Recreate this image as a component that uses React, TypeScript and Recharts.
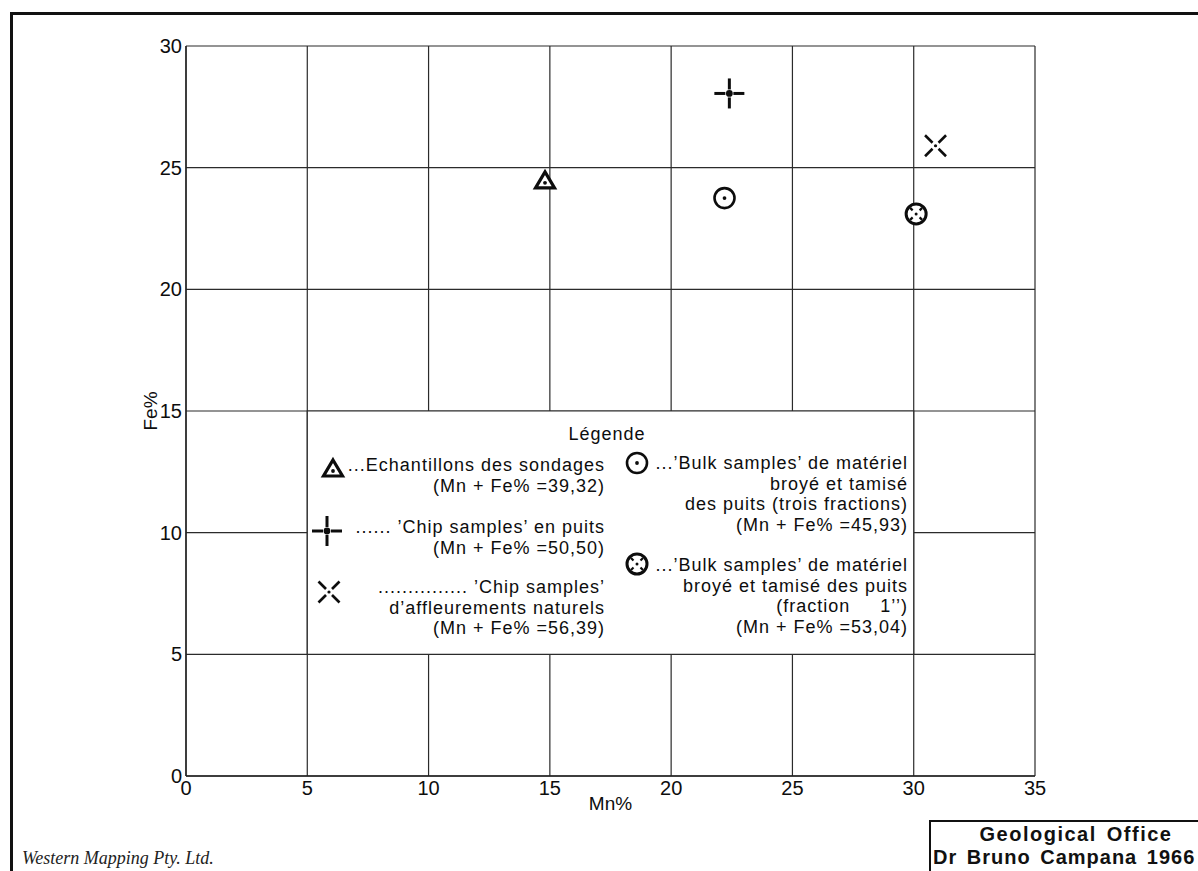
import React from "react";
import {
  ScatterChart, Scatter, XAxis, YAxis, CartesianGrid, ReferenceArea, Legend,
} from "recharts";

// Mn% / Fe%, one point per sample type
const seriesNames = [
  "Echantillons des sondages",
  "’Chip samples’ en puits",
  "’Chip samples’ d’affleurements naturels",
  "’Bulk samples’ de matériel broyé et tamisé des puits (trois fractions)",
  "’Bulk samples’ de matériel broyé et tamisé des puits (fraction 1’’)",
];
const markerKinds = ["triangle", "plus", "cross", "circleDot", "circleCross"];
const mnValues = [14.8, 22.4, 30.9, 22.2, 30.1];
const feValues = [24.5, 28.05, 25.9, 23.75, 23.1];
const totals = ["39,32", "50,50", "56,39", "45,93", "53,04"];
const legendLines = [
  ["...Echantillons des sondages"],
  ["...... ’Chip samples’ en puits"],
  ["............... ’Chip samples’", "d’affleurements naturels"],
  ["...’Bulk samples’ de matériel", "broyé et tamisé", "des puits (trois fractions)"],
  ["...’Bulk samples’ de matériel", "broyé et tamisé des puits", "(fraction\u00a0\u00a0\u00a0\u00a0\u00a01’’)"],
];
const mnTicks = [0, 5, 10, 15, 20, 25, 30, 35];
const feTicks = [0, 5, 10, 15, 20, 25, 30];

const FONT = '"Liberation Sans", Arial, Helvetica, sans-serif';
const INK = "#0d0d0d";

function Marker({ kind, cx, cy }: { kind: string; cx: number; cy: number }) {
  const dot = <circle cx={cx} cy={cy} r={1.9} fill={INK} />;
  if (kind === "triangle") {
    return (
      <g>
        <polygon
          points={`${cx},${cy - 8} ${cx + 9.5},${cy + 8} ${cx - 9.5},${cy + 8}`}
          fill="#fff" stroke={INK} strokeWidth={3.2}
        />
        <circle cx={cx} cy={cy + 3} r={1.9} fill={INK} />
      </g>
    );
  }
  if (kind === "plus") {
    return (
      <g stroke={INK} strokeWidth={3}>
        <line x1={cx - 15} y1={cy} x2={cx - 4} y2={cy} />
        <line x1={cx + 4} y1={cy} x2={cx + 15} y2={cy} />
        <line x1={cx} y1={cy - 15} x2={cx} y2={cy - 4} />
        <line x1={cx} y1={cy + 4} x2={cx} y2={cy + 15} />
        {dot}
      </g>
    );
  }
  if (kind === "cross") {
    return (
      <g stroke={INK} strokeWidth={2.6}>
        <line x1={cx - 10.5} y1={cy - 10.5} x2={cx - 3} y2={cy - 3} />
        <line x1={cx + 3} y1={cy + 3} x2={cx + 10.5} y2={cy + 10.5} />
        <line x1={cx + 10.5} y1={cy - 10.5} x2={cx + 3} y2={cy - 3} />
        <line x1={cx - 3} y1={cy + 3} x2={cx - 10.5} y2={cy + 10.5} />
        <circle cx={cx} cy={cy} r={1.6} fill={INK} stroke="none" />
      </g>
    );
  }
  if (kind === "circleDot") {
    return (
      <g>
        <circle cx={cx} cy={cy} r={10} fill="#fff" stroke={INK} strokeWidth={2.6} />
        {dot}
      </g>
    );
  }
  // circle with four inner ticks
  return (
    <g>
      <circle cx={cx} cy={cy} r={10} fill="#fff" stroke={INK} strokeWidth={3} />
      <g stroke={INK} strokeWidth={2.2}>
        <line x1={cx - 6} y1={cy - 6} x2={cx - 3.5} y2={cy - 3.5} />
        <line x1={cx + 6} y1={cy - 6} x2={cx + 3.5} y2={cy - 3.5} />
        <line x1={cx - 6} y1={cy + 6} x2={cx - 3.5} y2={cy + 3.5} />
        <line x1={cx + 6} y1={cy + 6} x2={cx + 3.5} y2={cy + 3.5} />
      </g>
      <circle cx={cx} cy={cy} r={1.5} fill={INK} />
    </g>
  );
}

// where each legend entry sits inside the white box (box at Mn 5–30, Fe 5–15)
const slots = [
  { icon: [26, 57], top: 44, right: 309 },
  { icon: [20, 120], top: 106, right: 309 },
  { icon: [22, 181], top: 166, right: 309 },
  { icon: [330, 52], top: 42, right: 6 },
  { icon: [330, 153], top: 144, right: 6 },
];

function LegendBox() {
  return (
    <div style={{ position: "relative", width: 607, height: 244, fontFamily: FONT, color: INK }}>
      <div style={{ position: "absolute", left: 0, width: 600, top: 12, textAlign: "center", fontSize: 18, lineHeight: "22px", letterSpacing: 1 }}>
        Légende
      </div>
      {seriesNames.map((name, i) => (
        <React.Fragment key={name}>
          <svg style={{ position: "absolute", left: slots[i].icon[0] - 17, top: slots[i].icon[1] - 17 }} width={34} height={34}>
            <Marker kind={markerKinds[i]} cx={17} cy={17} />
          </svg>
          <div
            style={{
              position: "absolute", right: slots[i].right, top: slots[i].top, textAlign: "right",
              fontSize: 18, lineHeight: "20.5px", letterSpacing: 1, whiteSpace: "nowrap",
            }}
          >
            {legendLines[i].map((l, j) => <div key={j}>{l}</div>)}
            <div>(Mn + Fe% ={totals[i]})</div>
          </div>
        </React.Fragment>
      ))}
    </div>
  );
}

function FeTitle(props: any) {
  const { viewBox } = props;
  const x = viewBox.x + 24;
  const y = viewBox.y + viewBox.height / 2;
  return (
    <text x={x} y={y} transform={`rotate(-90 ${x} ${y})`} textAnchor="middle" dominantBaseline="central"
      fontSize={19} fontFamily={FONT} fill={INK}>Fe%</text>
  );
}

function MnTitle(props: any) {
  const { viewBox } = props;
  return (
    <text x={viewBox.x + viewBox.width / 2} y={viewBox.y + 27} textAnchor="middle" dominantBaseline="central"
      fontSize={19} fontFamily={FONT} fill={INK}>Mn%</text>
  );
}

export default function App() {
  const tick = { fontSize: 20, fill: INK, fontFamily: FONT };
  return (
    <div style={{ position: "absolute", left: 0, top: 0, width: 1198, height: 871, overflow: "hidden", background: "#fff", fontFamily: FONT }}>
      <ScatterChart width={1198} height={871} margin={{ top: 46, right: 163, bottom: 55, left: 126 }}>
        <CartesianGrid stroke="#2b2b2b" strokeWidth={1.2} />
        <XAxis
          type="number" dataKey="x" domain={[0, 35]} ticks={mnTicks} height={40}
          tick={tick} tickLine={false} tickSize={0} tickMargin={5}
          axisLine={{ stroke: "#222", strokeWidth: 1.4 }} label={<MnTitle />}
        />
        <YAxis
          type="number" dataKey="y" domain={[0, 30]} ticks={feTicks} width={60}
          tick={tick} tickLine={false} tickSize={0} tickMargin={4}
          axisLine={{ stroke: "#222", strokeWidth: 1.4 }} label={<FeTitle />}
        />
        <ReferenceArea x1={5} x2={30} y1={5} y2={15} fill="#fff" fillOpacity={1} stroke="#2b2b2b" strokeWidth={1.2} />
        <Legend
          verticalAlign="middle" align="center" layout="horizontal"
          content={() => <LegendBox />}
          wrapperStyle={{ left: 307, top: 411, width: 607, height: 244 }}
        />
        {seriesNames.map((name, i) => (
          <Scatter
            key={name}
            name={name}
            data={[{ x: mnValues[i], y: feValues[i] }]}
            isAnimationActive={false}
            shape={(p: any) => <Marker kind={markerKinds[i]} cx={p.cx} cy={p.cy} />}
          />
        ))}
      </ScatterChart>

      {/* sheet frame */}
      <div style={{ position: "absolute", left: 10, top: 12, width: 1200, height: 3, background: "#111" }} />
      <div style={{ position: "absolute", left: 10, top: 12, width: 3, height: 880, background: "#111" }} />

      <div style={{ position: "absolute", left: 22, top: 849, fontFamily: '"Liberation Serif", "Times New Roman", serif', fontStyle: "italic", fontSize: 18, lineHeight: "18px", color: "#222", whiteSpace: "nowrap" }}>
        Western Mapping Pty. Ltd.
      </div>

      <div style={{ position: "absolute", left: 929, top: 820, width: 292, height: 80, borderTop: "2px solid #111", borderLeft: "2px solid #111", boxSizing: "border-box", fontWeight: 700, fontSize: 20, lineHeight: "23px", color: "#111", letterSpacing: 1, wordSpacing: 3, whiteSpace: "nowrap" }}>
        <div style={{ textAlign: "center", marginTop: 1, letterSpacing: 1.5 }}>Geological Office</div>
        <div style={{ paddingLeft: 2 }}>Dr Bruno Campana 1966</div>
      </div>
    </div>
  );
}
